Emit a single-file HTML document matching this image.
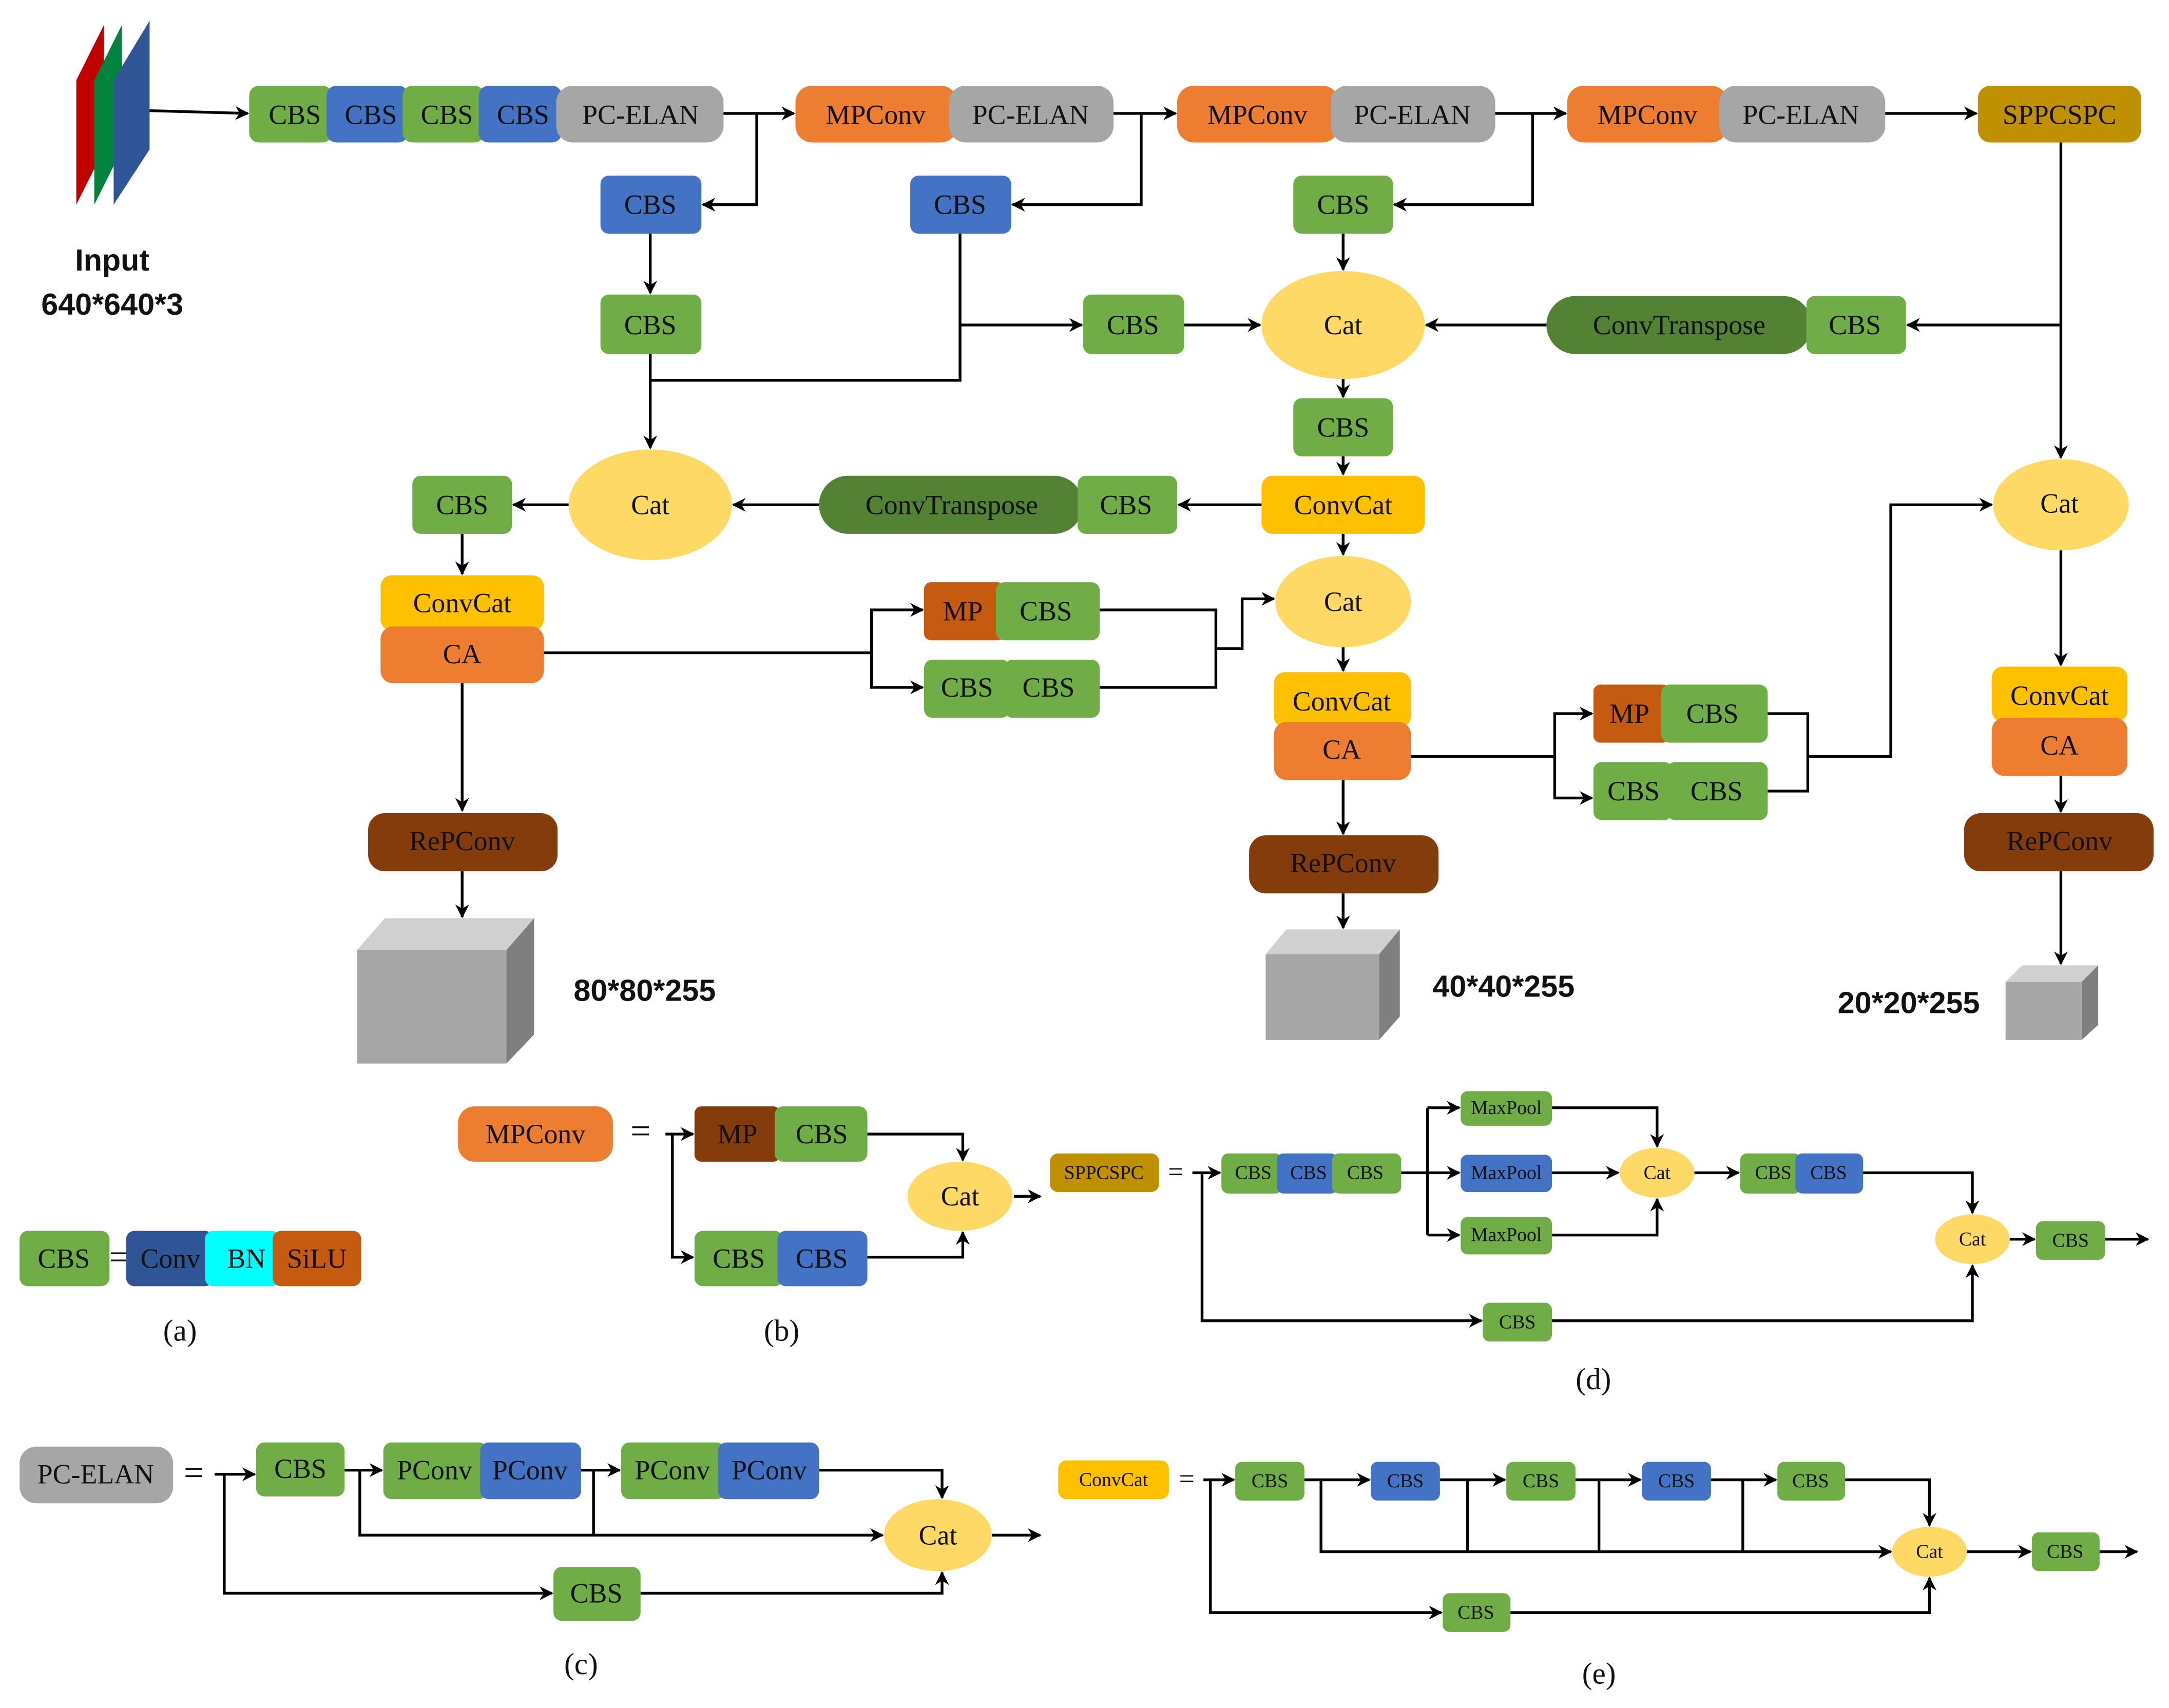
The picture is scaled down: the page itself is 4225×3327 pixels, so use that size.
<!DOCTYPE html>
<html><head><meta charset="utf-8"><style>
html,body{margin:0;padding:0;background:#fff;}
svg{display:block}
text{font-family:"Liberation Serif",serif;fill:#111;text-anchor:middle;dominant-baseline:central}
.b{font-family:"Liberation Sans",sans-serif;font-weight:bold}
.l{fill:none;stroke:#000;stroke-width:2}
.la{fill:none;stroke:#000;stroke-width:2;marker-end:url(#ar)}
.s{font-size:14px}
</style></head><body>
<svg width="4225" height="3327" viewBox="0 0 1568 1235" xmlns="http://www.w3.org/2000/svg">
<defs><marker id="ar" viewBox="0 0 10 10" refX="9" refY="5" markerWidth="5" markerHeight="5" orient="auto" markerUnits="strokeWidth"><path d="M0,0 L10,5 L0,10 L3,5 z" fill="#000"/></marker></defs>
<rect width="1568" height="1235" fill="#fff"/>
<!-- input -->
<polygon points="55,58 75,18 75,108 55,148" fill="#C00000"/>
<polygon points="68,58 88,18 88,108 68,148" fill="#00843D"/>
<polygon points="82,58 108,15 108,108 82,148" fill="#2F5597"/>
<text class="b" x="81" y="188" font-size="22">Input</text>
<text class="b" x="81" y="220" font-size="22">640*640*3</text>
<line class="la" x1="108" y1="80" x2="179" y2="82"/>
<g font-size="20">
<!-- row1 -->
<rect x="180" y="62" width="60" height="41" rx="7" fill="#70AD47"/><text x="213" y="83">CBS</text>
<rect x="236" y="62" width="59" height="41" rx="7" fill="#4472C4"/><text x="268" y="83">CBS</text>
<rect x="291" y="62" width="59" height="41" rx="7" fill="#70AD47"/><text x="323" y="83">CBS</text>
<rect x="346" y="62" width="60" height="41" rx="7" fill="#4472C4"/><text x="378" y="83">CBS</text>
<rect x="402" y="62" width="121" height="41" rx="12" fill="#A6A6A6"/><text x="463" y="83">PC-ELAN</text>
<rect x="575" y="62" width="117" height="41" rx="12" fill="#ED7D31"/><text x="633" y="83">MPConv</text>
<rect x="686" y="62" width="119" height="41" rx="12" fill="#A6A6A6"/><text x="745" y="83">PC-ELAN</text>
<rect x="851" y="62" width="117" height="41" rx="12" fill="#ED7D31"/><text x="909" y="83">MPConv</text>
<rect x="962" y="62" width="119" height="41" rx="12" fill="#A6A6A6"/><text x="1021" y="83">PC-ELAN</text>
<rect x="1133" y="62" width="116" height="41" rx="12" fill="#ED7D31"/><text x="1191" y="83">MPConv</text>
<rect x="1243" y="62" width="120" height="41" rx="12" fill="#A6A6A6"/><text x="1302" y="83">PC-ELAN</text>
<rect x="1430" y="62" width="118" height="41" rx="9" fill="#BF9000"/><text x="1489" y="83">SPPCSPC</text>
<!-- row2 -->
<rect x="434" y="127" width="73" height="42" rx="6" fill="#4472C4"/><text x="470" y="148">CBS</text>
<rect x="658" y="127" width="73" height="42" rx="6" fill="#4472C4"/><text x="694" y="148">CBS</text>
<rect x="935" y="127" width="72" height="42" rx="6" fill="#70AD47"/><text x="971" y="148">CBS</text>
<rect x="434" y="213" width="73" height="43" rx="6" fill="#70AD47"/><text x="470" y="235">CBS</text>
<rect x="783" y="213" width="73" height="43" rx="6" fill="#70AD47"/><text x="819" y="235">CBS</text>
<ellipse cx="971" cy="235" rx="59" ry="39" fill="#FFD966"/><text x="971" y="235">Cat</text>
<rect x="1118" y="214" width="192" height="42" rx="21" fill="#548235"/><text x="1214" y="235">ConvTranspose</text>
<rect x="1306" y="214" width="72" height="42" rx="6" fill="#70AD47"/><text x="1341" y="235">CBS</text>
<rect x="935" y="288" width="72" height="42" rx="6" fill="#70AD47"/><text x="971" y="309">CBS</text>
<rect x="912" y="344" width="118" height="42" rx="8" fill="#FFC000"/><text x="971" y="365">ConvCat</text>
<rect x="592" y="344" width="191" height="42" rx="21" fill="#548235"/><text x="688" y="365">ConvTranspose</text>
<rect x="779" y="344" width="72" height="42" rx="6" fill="#70AD47"/><text x="814" y="365">CBS</text>
<ellipse cx="470" cy="365" rx="59" ry="40" fill="#FFD966"/><text x="470" y="365">Cat</text>
<rect x="298" y="344" width="72" height="42" rx="6" fill="#70AD47"/><text x="334" y="365">CBS</text>
<ellipse cx="1490" cy="365" rx="49" ry="33" fill="#FFD966"/><text x="1489" y="364">Cat</text>
<rect x="275" y="416" width="118" height="40" rx="8" fill="#FFC000"/><text x="334" y="436">ConvCat</text>
<rect x="275" y="453" width="118" height="41" rx="9" fill="#ED7D31"/><text x="334" y="473">CA</text>
<rect x="668" y="421" width="58" height="42" rx="5" fill="#C55A11"/><text x="696" y="442">MP</text>
<rect x="720" y="421" width="75" height="42" rx="6" fill="#70AD47"/><text x="756" y="442">CBS</text>
<rect x="668" y="477" width="62" height="42" rx="6" fill="#70AD47"/><text x="699" y="497">CBS</text>
<rect x="726" y="477" width="69" height="42" rx="6" fill="#70AD47"/><text x="758" y="497">CBS</text>
<ellipse cx="971" cy="435" rx="49" ry="33" fill="#FFD966"/><text x="971" y="435">Cat</text>
<rect x="921" y="486" width="99" height="40" rx="8" fill="#FFC000"/><text x="970" y="507">ConvCat</text>
<rect x="921" y="522" width="99" height="42" rx="9" fill="#ED7D31"/><text x="970" y="542">CA</text>
<rect x="1152" y="495" width="55" height="42" rx="5" fill="#C55A11"/><text x="1178" y="516">MP</text>
<rect x="1201" y="495" width="77" height="42" rx="6" fill="#70AD47"/><text x="1238" y="516">CBS</text>
<rect x="1152" y="551" width="57" height="42" rx="6" fill="#70AD47"/><text x="1181" y="572">CBS</text>
<rect x="1205" y="551" width="73" height="42" rx="6" fill="#70AD47"/><text x="1241" y="572">CBS</text>
<rect x="1440" y="482" width="98" height="40" rx="8" fill="#FFC000"/><text x="1489" y="503">ConvCat</text>
<rect x="1440" y="519" width="98" height="42" rx="9" fill="#ED7D31"/><text x="1489" y="539">CA</text>
<rect x="266" y="588" width="137" height="42" rx="12" fill="#843C0C"/><text x="334" y="608">RePConv</text>
<rect x="903" y="604" width="137" height="42" rx="12" fill="#843C0C"/><text x="971" y="624">RePConv</text>
<rect x="1420" y="588" width="137" height="42" rx="12" fill="#843C0C"/><text x="1489" y="608">RePConv</text>
</g>
<!-- cubes -->
<polygon points="258,687 278,664 386,664 366,687" fill="#D0D0D0"/><polygon points="366,687 386,664 386,748 366,769" fill="#7F7F7F"/><rect x="258" y="687" width="108" height="82" fill="#A6A6A6"/>
<polygon points="915,690 930,672 1012,672 997,690" fill="#D0D0D0"/><polygon points="997,690 1012,672 1012,735 997,752" fill="#7F7F7F"/><rect x="915" y="690" width="82" height="62" fill="#A6A6A6"/>
<polygon points="1450,710 1462,698 1517,698 1505,710" fill="#D0D0D0"/><polygon points="1505,710 1517,698 1517,741 1505,752" fill="#7F7F7F"/><rect x="1450" y="710" width="55" height="42" fill="#A6A6A6"/>
<text class="b" x="466" y="716" font-size="22">80*80*255</text>
<text class="b" x="1087" y="713" font-size="22">40*40*255</text>
<text class="b" x="1380" y="725" font-size="22">20*20*255</text>
<!-- main connectors -->
<line class="la" x1="523" y1="82" x2="574" y2="82"/>
<polyline class="la" points="547,82 547,148 508,148"/>
<line class="la" x1="805" y1="82" x2="850" y2="82"/>
<polyline class="la" points="825,82 825,148 732,148"/>
<line class="la" x1="1081" y1="82" x2="1132" y2="82"/>
<polyline class="la" points="1108,82 1108,148 1008,148"/>
<line class="la" x1="1363" y1="82" x2="1429" y2="82"/>
<line class="la" x1="470" y1="169" x2="470" y2="212"/>
<polyline class="l" points="694,169 694,275 470,275"/>
<line class="la" x1="694" y1="235" x2="782" y2="235"/>
<line class="la" x1="470" y1="256" x2="470" y2="324"/>
<line class="la" x1="856" y1="235" x2="911" y2="235"/>
<line class="la" x1="971" y1="169" x2="971" y2="195"/>
<line class="la" x1="1118" y1="235" x2="1031" y2="235"/>
<line class="la" x1="1490" y1="103" x2="1490" y2="331"/>
<line class="la" x1="1490" y1="235" x2="1379" y2="235"/>
<line class="la" x1="971" y1="274" x2="971" y2="287"/>
<line class="la" x1="971" y1="330" x2="971" y2="343"/>
<line class="la" x1="912" y1="365" x2="852" y2="365"/>
<line class="la" x1="592" y1="365" x2="530" y2="365"/>
<line class="la" x1="411" y1="365" x2="371" y2="365"/>
<line class="la" x1="334" y1="386" x2="334" y2="415"/>
<polyline class="l" points="393,472 630,472"/>
<polyline class="la" points="630,472 630,441 667,441"/>
<polyline class="la" points="630,472 630,497 667,497"/>
<polyline class="l" points="795,441 879,441 879,497 795,497"/>
<polyline class="la" points="879,469 898,469 898,433 921,433"/>
<line class="la" x1="971" y1="386" x2="971" y2="401"/>
<line class="la" x1="971" y1="468" x2="971" y2="485"/>
<line class="la" x1="971" y1="564" x2="971" y2="603"/>
<line class="la" x1="971" y1="646" x2="971" y2="671"/>
<polyline class="l" points="1020,547 1124,547"/>
<polyline class="la" points="1124,547 1124,516 1151,516"/>
<polyline class="la" points="1124,547 1124,577 1151,577"/>
<polyline class="l" points="1278,516 1307,516 1307,572 1278,572"/>
<polyline class="la" points="1307,547 1367,547 1367,365 1440,365"/>
<line class="la" x1="1490" y1="398" x2="1490" y2="481"/>
<line class="la" x1="1490" y1="561" x2="1490" y2="587"/>
<line class="la" x1="1490" y1="630" x2="1490" y2="697"/>
<line class="la" x1="334" y1="494" x2="334" y2="586"/>
<line class="la" x1="334" y1="630" x2="334" y2="663"/>
<!-- (a) -->
<g font-size="20">
<rect x="14" y="890" width="65" height="40" rx="6" fill="#70AD47"/><text x="46" y="910">CBS</text>
<text x="86" y="909" font-size="26">=</text>
<rect x="91" y="890" width="63" height="40" rx="6" fill="#2F5597"/><text x="123" y="910">Conv</text>
<rect x="148" y="890" width="54" height="40" rx="6" fill="#00FFFF"/><text x="178" y="910">BN</text>
<rect x="197" y="890" width="64" height="40" rx="6" fill="#C55A11"/><text x="229" y="910">SiLU</text>
<text x="130" y="962" font-size="22">(a)</text>
<!-- (b) -->
<rect x="331" y="800" width="112" height="40" rx="12" fill="#ED7D31"/><text x="387" y="820">MPConv</text>
<text x="463" y="818" font-size="26">=</text>
<rect x="502" y="800" width="62" height="40" rx="5" fill="#843C0C"/><text x="533" y="820">MP</text>
<rect x="560" y="800" width="67" height="40" rx="6" fill="#70AD47"/><text x="594" y="820">CBS</text>
<rect x="502" y="890" width="64" height="40" rx="6" fill="#70AD47"/><text x="534" y="910">CBS</text>
<rect x="562" y="890" width="65" height="40" rx="6" fill="#4472C4"/><text x="594" y="910">CBS</text>
<ellipse cx="694" cy="865" rx="38" ry="25" fill="#FFD966"/><text x="694" y="865">Cat</text>
<text x="565" y="962" font-size="22">(b)</text>
<!-- (c) -->
<rect x="14" y="1046" width="111" height="41" rx="12" fill="#A6A6A6"/><text x="69" y="1066">PC-ELAN</text>
<text x="140" y="1065" font-size="26">=</text>
<rect x="185" y="1043" width="64" height="39" rx="6" fill="#70AD47"/><text x="217" y="1062">CBS</text>
<rect x="277" y="1043" width="75" height="41" rx="6" fill="#70AD47"/><text x="314" y="1063">PConv</text>
<rect x="347" y="1043" width="73" height="41" rx="6" fill="#4472C4"/><text x="383" y="1063">PConv</text>
<rect x="449" y="1043" width="75" height="41" rx="6" fill="#70AD47"/><text x="486" y="1063">PConv</text>
<rect x="519" y="1043" width="73" height="41" rx="6" fill="#4472C4"/><text x="556" y="1063">PConv</text>
<ellipse cx="678" cy="1110" rx="39" ry="26" fill="#FFD966"/><text x="678" y="1110">Cat</text>
<rect x="400" y="1133" width="63" height="39" rx="6" fill="#70AD47"/><text x="431" y="1152">CBS</text>
<text x="420" y="1203" font-size="22">(c)</text>
</g>
<line class="la" x1="733" y1="865" x2="752" y2="865"/>
<polyline class="la" points="481,820 501,820"/>
<polyline class="la" points="486,820 486,909 501,909"/>
<polyline class="la" points="627,820 696,820 696,839"/>
<polyline class="la" points="627,909 696,909 696,891"/>
<line class="la" x1="155" y1="1066" x2="184" y2="1066"/>
<polyline class="la" points="162,1066 162,1152 399,1152"/>
<line class="la" x1="249" y1="1063" x2="276" y2="1063"/>
<line class="la" x1="420" y1="1063" x2="448" y2="1063"/>
<polyline class="la" points="592,1063 681,1063 681,1083"/>
<polyline class="la" points="260,1063 260,1110 638,1110"/>
<line class="l" x1="429" y1="1063" x2="429" y2="1110"/>
<polyline class="la" points="463,1152 681,1152 681,1137"/>
<line class="la" x1="717" y1="1110" x2="752" y2="1110"/>
<!-- (d) -->
<g class="s">
<rect x="759" y="834" width="79" height="28" rx="6" fill="#BF9000"/><text x="798" y="848">SPPCSPC</text>
<text x="850" y="847" font-size="20">=</text>
<rect x="883" y="834" width="44" height="29" rx="5" fill="#70AD47"/><text x="906" y="848">CBS</text>
<rect x="923" y="834" width="44" height="29" rx="5" fill="#4472C4"/><text x="946" y="848">CBS</text>
<rect x="963" y="834" width="50" height="29" rx="5" fill="#70AD47"/><text x="987" y="848">CBS</text>
<rect x="1056" y="789" width="66" height="25" rx="5" fill="#70AD47"/><text x="1089" y="801">MaxPool</text>
<rect x="1056" y="835" width="66" height="27" rx="5" fill="#4472C4"/><text x="1089" y="848">MaxPool</text>
<rect x="1056" y="880" width="66" height="27" rx="5" fill="#70AD47"/><text x="1089" y="893">MaxPool</text>
<ellipse cx="1198" cy="848" rx="27" ry="18" fill="#FFD966"/><text x="1198" y="848">Cat</text>
<rect x="1258" y="834" width="44" height="29" rx="5" fill="#70AD47"/><text x="1282" y="848">CBS</text>
<rect x="1298" y="834" width="49" height="29" rx="5" fill="#4472C4"/><text x="1322" y="848">CBS</text>
<ellipse cx="1426" cy="896" rx="27" ry="18" fill="#FFD966"/><text x="1426" y="896">Cat</text>
<rect x="1472" y="883" width="50" height="28" rx="5" fill="#70AD47"/><text x="1497" y="897">CBS</text>
<rect x="1072" y="942" width="50" height="28" rx="5" fill="#70AD47"/><text x="1097" y="956">CBS</text>
<!-- (e) -->
<rect x="765" y="1056" width="80" height="28" rx="6" fill="#FFC000"/><text x="805" y="1070">ConvCat</text>
<text x="858" y="1069" font-size="20">=</text>
<rect x="893" y="1057" width="50" height="28" rx="5" fill="#70AD47"/><text x="918" y="1071">CBS</text>
<rect x="991" y="1057" width="50" height="28" rx="5" fill="#4472C4"/><text x="1016" y="1071">CBS</text>
<rect x="1089" y="1057" width="50" height="28" rx="5" fill="#70AD47"/><text x="1114" y="1071">CBS</text>
<rect x="1187" y="1057" width="50" height="28" rx="5" fill="#4472C4"/><text x="1212" y="1071">CBS</text>
<rect x="1285" y="1057" width="49" height="28" rx="5" fill="#70AD47"/><text x="1309" y="1071">CBS</text>
<ellipse cx="1395" cy="1122" rx="27" ry="18" fill="#FFD966"/><text x="1395" y="1122">Cat</text>
<rect x="1469" y="1108" width="49" height="28" rx="5" fill="#70AD47"/><text x="1493" y="1122">CBS</text>
<rect x="1043" y="1152" width="49" height="28" rx="5" fill="#70AD47"/><text x="1067" y="1166">CBS</text>
</g>
<text x="1152" y="997" font-size="22">(d)</text>
<text x="1156" y="1210" font-size="22">(e)</text>
<g style="stroke-width:1.5">
<line class="la" x1="862" y1="848" x2="882" y2="848"/>
<polyline class="la" points="869,848 869,955 1071,955"/>
<line class="l" x1="1013" y1="848" x2="1032" y2="848"/>
<polyline class="la" points="1032,801 1055,801"/>
<line class="l" x1="1032" y1="801" x2="1032" y2="893"/>
<line class="la" x1="1032" y1="848" x2="1055" y2="848"/>
<line class="la" x1="1032" y1="893" x2="1055" y2="893"/>
<polyline class="la" points="1122,801 1198,801 1198,829"/>
<line class="la" x1="1122" y1="848" x2="1170" y2="848"/>
<polyline class="la" points="1122,893 1198,893 1198,867"/>
<line class="la" x1="1225" y1="848" x2="1257" y2="848"/>
<polyline class="la" points="1347,848 1426,848 1426,877"/>
<line class="la" x1="1453" y1="896" x2="1471" y2="896"/>
<line class="la" x1="1522" y1="896" x2="1553" y2="896"/>
<polyline class="la" points="1122,955 1426,955 1426,915"/>
<line class="la" x1="870" y1="1070" x2="892" y2="1070"/>
<polyline class="la" points="875,1070 875,1166 1042,1166"/>
<line class="la" x1="943" y1="1070" x2="990" y2="1070"/>
<line class="la" x1="1041" y1="1070" x2="1088" y2="1070"/>
<line class="la" x1="1139" y1="1070" x2="1186" y2="1070"/>
<line class="la" x1="1237" y1="1070" x2="1284" y2="1070"/>
<polyline class="la" points="1334,1070 1395,1070 1395,1103"/>
<polyline class="la" points="955,1070 955,1122 1367,1122"/>
<line class="l" x1="1061" y1="1070" x2="1061" y2="1122"/>
<line class="l" x1="1156" y1="1070" x2="1156" y2="1122"/>
<line class="l" x1="1260" y1="1070" x2="1260" y2="1122"/>
<line class="la" x1="1422" y1="1122" x2="1468" y2="1122"/>
<line class="la" x1="1518" y1="1122" x2="1545" y2="1122"/>
<polyline class="la" points="1092,1166 1395,1166 1395,1141"/>
</g>
</svg>
</body></html>
